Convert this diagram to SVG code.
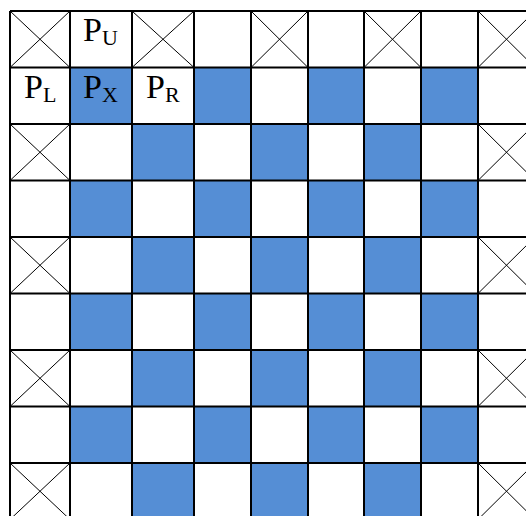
<svg xmlns="http://www.w3.org/2000/svg" width="526" height="516" viewBox="0 0 526 516">
<style>
.b{fill:#558ED5}
.g{stroke:#000;stroke-width:2;fill:none}
.x{stroke:#000;stroke-width:1;fill:none}
.t{font-family:"Liberation Serif","Times New Roman",serif;font-size:34px;fill:#000}
.s{font-size:22px}
</style>
<rect width="526" height="516" fill="#fff"/>
<g id="blue">
<rect class="b" x="70" y="67.5" width="62" height="56.5"/>
<rect class="b" x="194" y="67.5" width="57" height="56.5"/>
<rect class="b" x="308" y="67.5" width="56" height="56.5"/>
<rect class="b" x="421" y="67.5" width="57" height="56.5"/>
<rect class="b" x="132" y="124" width="62" height="56.5"/>
<rect class="b" x="251" y="124" width="57" height="56.5"/>
<rect class="b" x="364" y="124" width="57" height="56.5"/>
<rect class="b" x="70" y="180.5" width="62" height="56.5"/>
<rect class="b" x="194" y="180.5" width="57" height="56.5"/>
<rect class="b" x="308" y="180.5" width="56" height="56.5"/>
<rect class="b" x="421" y="180.5" width="57" height="56.5"/>
<rect class="b" x="132" y="237" width="62" height="56.5"/>
<rect class="b" x="251" y="237" width="57" height="56.5"/>
<rect class="b" x="364" y="237" width="57" height="56.5"/>
<rect class="b" x="70" y="293.5" width="62" height="56.5"/>
<rect class="b" x="194" y="293.5" width="57" height="56.5"/>
<rect class="b" x="308" y="293.5" width="56" height="56.5"/>
<rect class="b" x="421" y="293.5" width="57" height="56.5"/>
<rect class="b" x="132" y="350" width="62" height="56.5"/>
<rect class="b" x="251" y="350" width="57" height="56.5"/>
<rect class="b" x="364" y="350" width="57" height="56.5"/>
<rect class="b" x="70" y="406.5" width="62" height="56.5"/>
<rect class="b" x="194" y="406.5" width="57" height="56.5"/>
<rect class="b" x="308" y="406.5" width="56" height="56.5"/>
<rect class="b" x="421" y="406.5" width="57" height="56.5"/>
<rect class="b" x="132" y="463" width="62" height="56.5"/>
<rect class="b" x="251" y="463" width="57" height="56.5"/>
<rect class="b" x="364" y="463" width="57" height="56.5"/>
</g>
<g id="crosses" class="x">
<path d="M10 11L70 67.5M70 11L10 67.5"/>
<path d="M132 11L194 67.5M194 11L132 67.5"/>
<path d="M251 11L308 67.5M308 11L251 67.5"/>
<path d="M364 11L421 67.5M421 11L364 67.5"/>
<path d="M478 11L535 67.5M535 11L478 67.5"/>
<path d="M10 124L70 180.5M70 124L10 180.5"/>
<path d="M478 124L535 180.5M535 124L478 180.5"/>
<path d="M10 237L70 293.5M70 237L10 293.5"/>
<path d="M478 237L535 293.5M535 237L478 293.5"/>
<path d="M10 350L70 406.5M70 350L10 406.5"/>
<path d="M478 350L535 406.5M535 350L478 406.5"/>
<path d="M10 463L70 519.5M70 463L10 519.5"/>
<path d="M478 463L535 519.5M535 463L478 519.5"/>
</g>
<g id="grid" class="g">
<path d="M10 11V520M70 11V520M132 11V520M194 11V520M251 11V520M308 11V520M364 11V520M421 11V520M478 11V520"/>
<path d="M10 11H526M10 67.5H526M10 124H526M10 180.5H526M10 237H526M10 293.5H526M10 350H526M10 406.5H526M10 463H526"/>
</g>
<g id="labels" class="t">
<text x="83" y="41">P<tspan class="s" dy="4">U</tspan></text>
<text x="24" y="98">P<tspan class="s" dy="4">L</tspan></text>
<text x="83" y="98">P<tspan class="s" dy="4">X</tspan></text>
<text x="146" y="98">P<tspan class="s" dy="4">R</tspan></text>
</g>
</svg>
